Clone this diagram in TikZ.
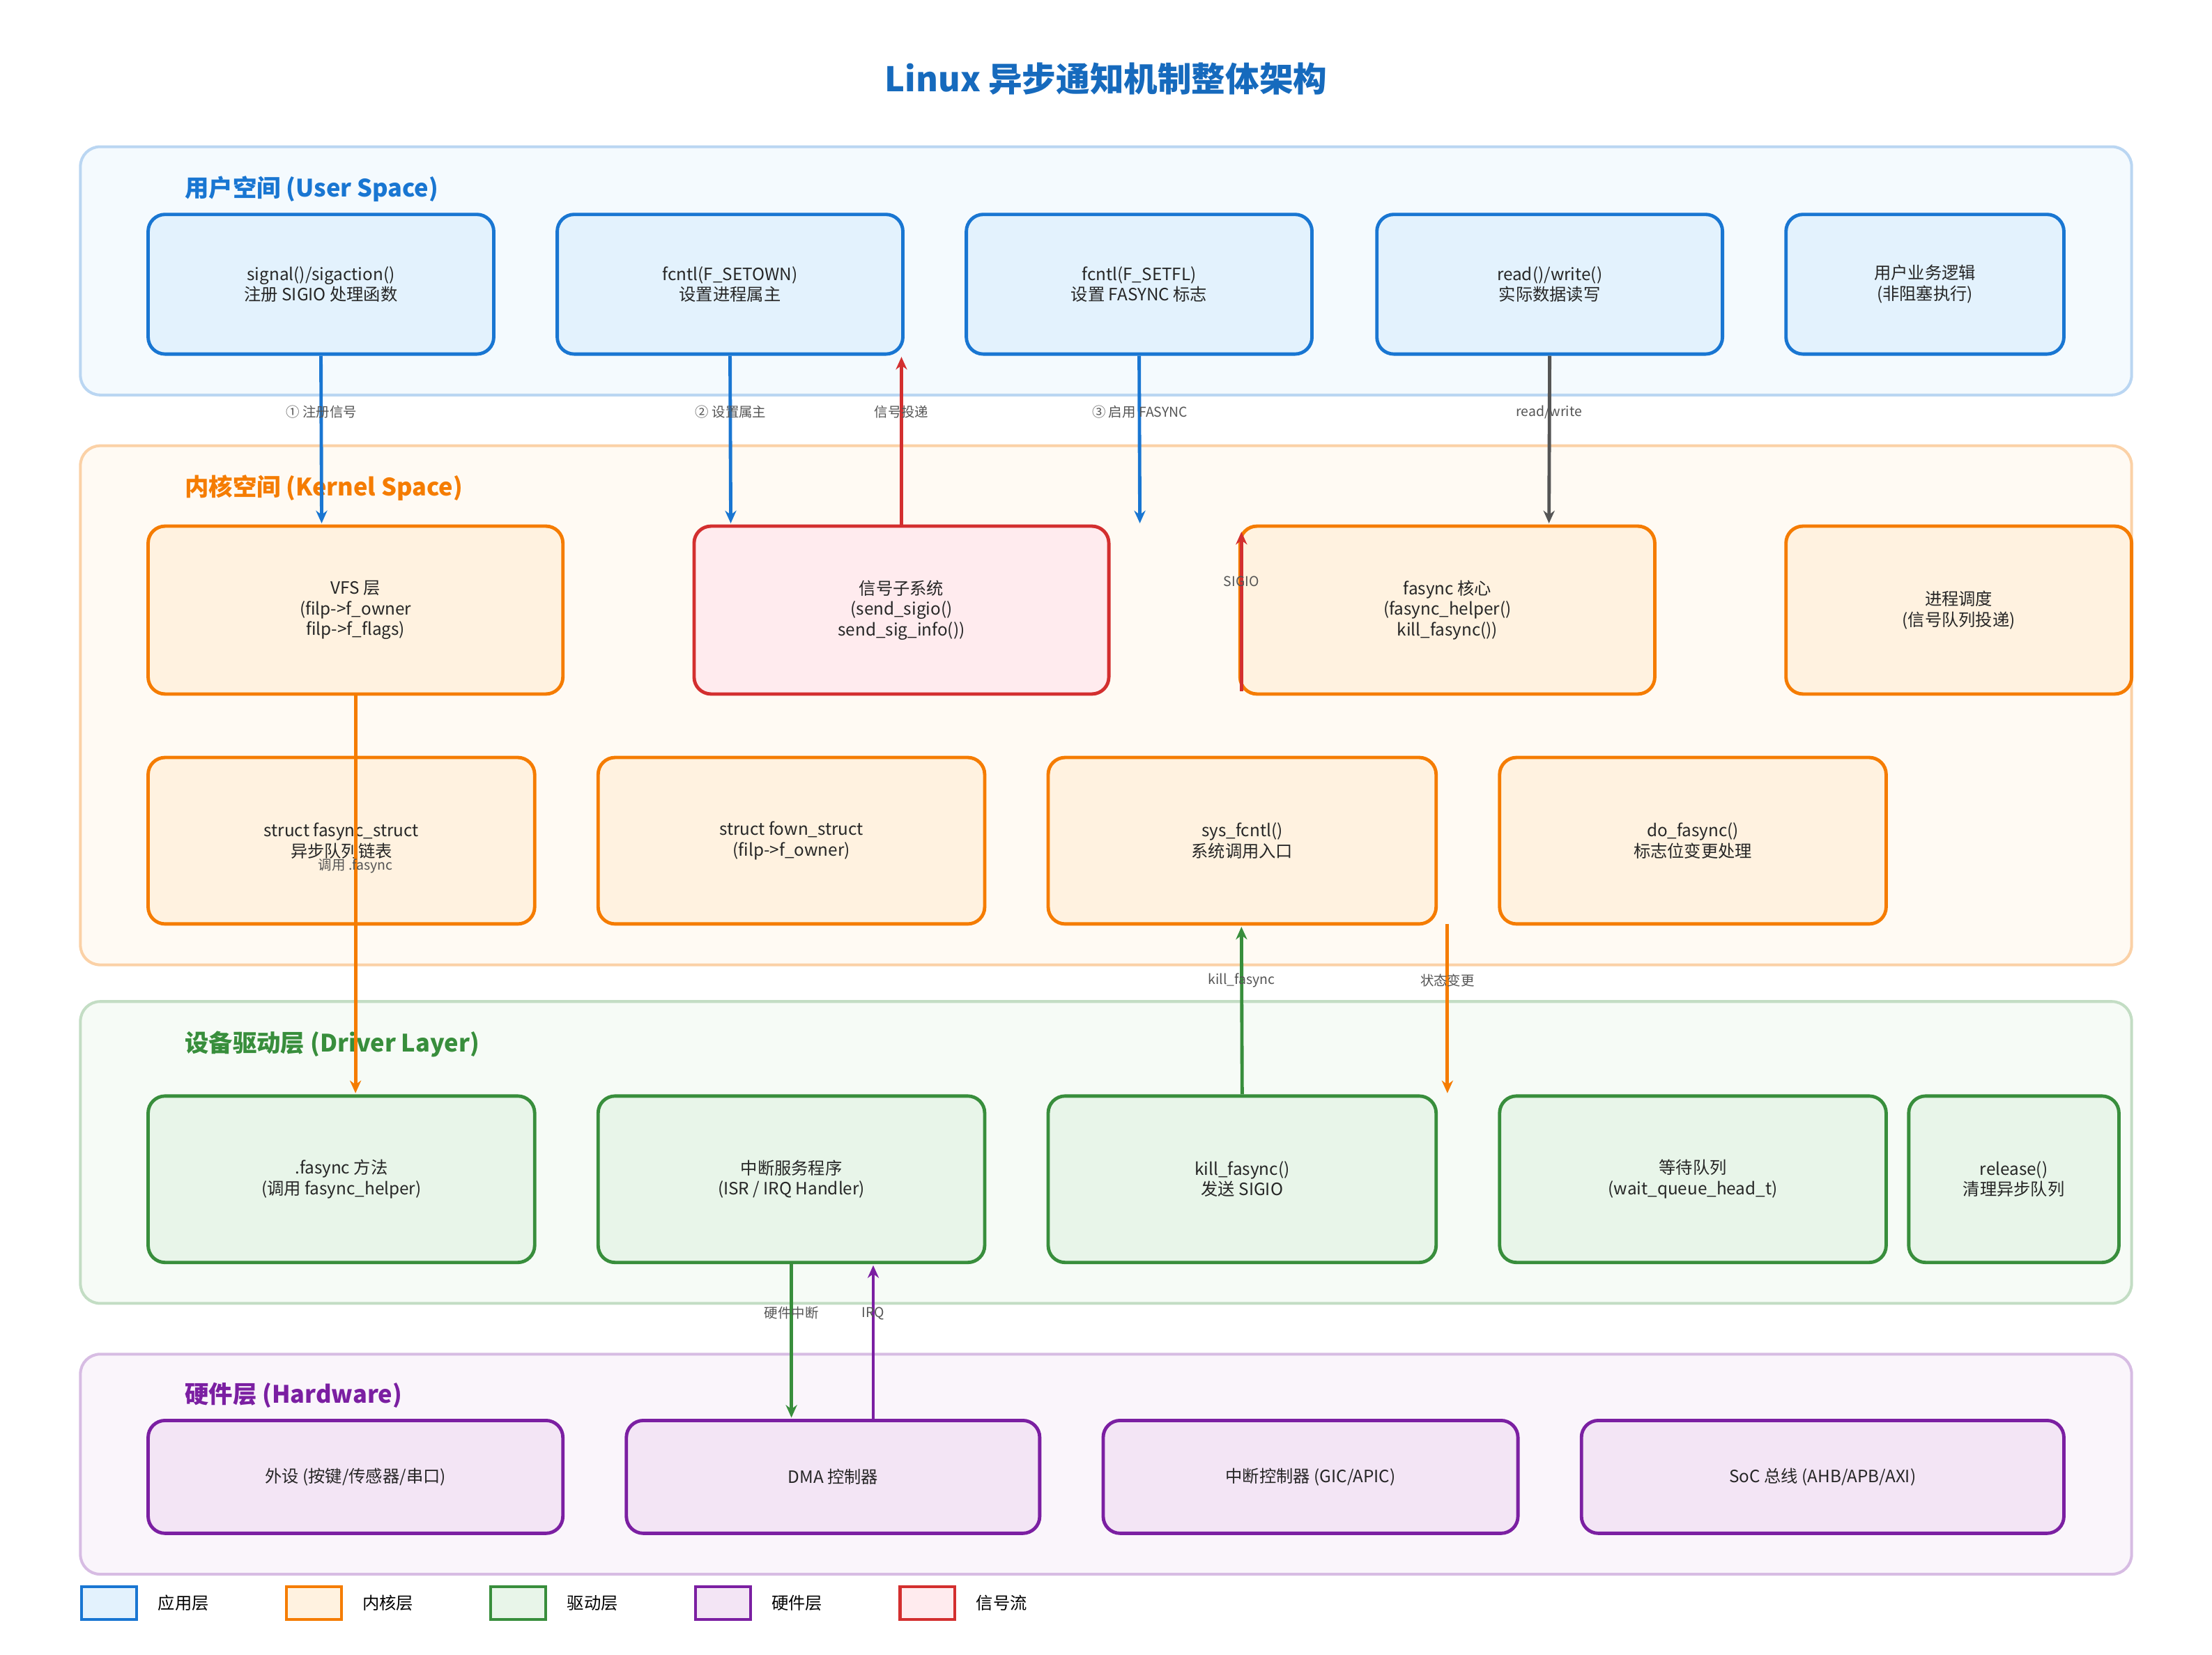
\documentclass[tikz,border=0pt]{standalone}
\usepackage{fontspec}
\setmainfont{Noto Sans CJK SC}
\usetikzlibrary{arrows.meta}
\definecolor{ub}{HTML}{1976D2}\definecolor{uf}{HTML}{E3F2FD}
\definecolor{kb}{HTML}{F57C00}\definecolor{kf}{HTML}{FFF2E0}
\definecolor{db}{HTML}{388E3C}\definecolor{df}{HTML}{E8F5E9}
\definecolor{hb}{HTML}{7B1FA2}\definecolor{hf}{HTML}{F3E5F5}
\definecolor{rb}{HTML}{D32F2F}\definecolor{rf}{HTML}{FFEBEE}
\definecolor{lab}{HTML}{555555}
\tikzset{
 base/.style={rounded corners=6pt,line width=1.2pt,align=center,font=\fontsize{6}{7.3}\selectfont,text=black!85},
 ubox/.style={base,draw=ub,fill=uf},
 kbox/.style={base,draw=kb,fill=kf},
 dbox/.style={base,draw=db,fill=df},
 hbox/.style={base,draw=hb,fill=hf},
 rbox/.style={base,draw=rb,fill=rf},
 layer/.style={rounded corners=7pt,line width=1pt},
 ltitle/.style={anchor=west,font=\bfseries\fontsize{8.5}{10}\selectfont},
 arr/.style={line width=1.2pt,-{Stealth[length=4.5pt,width=4pt]}},
 lbl/.style={font=\fontsize{4.8}{6}\selectfont,text=lab},
 lg/.style={line width=1pt,minimum width=19.5pt,minimum height=11.5pt,inner sep=0pt},
 lgt/.style={anchor=west,font=\fontsize{6}{7}\selectfont}
}
\newcommand\bx[7]{\node[#2,minimum width={(#5-#3)*0.5pt},minimum height={(#6-#4)*0.5pt},inner sep=0pt] (#1) at ({(#3+#5)/2},{(#4+#6)/2}) {#7};}
\begin{document}
\begin{tikzpicture}[x=0.5pt,y=-0.5pt]
\useasboundingbox[fill=white] (0,0) rectangle (1568,1173);
\node[font=\bfseries\fontsize{12}{14}\selectfont,text=ub!90!black] (title) at (784,56) {Linux 异步通知机制整体架构};
% layers
\draw[layer,draw=ub!30,fill=uf!40] (57,104) rectangle (1511,280);
\node[ltitle,text=ub] (lu) at (124,134) {用户空间 (User Space)};
\draw[layer,draw=kb!35,fill=kf!40] (57,316) rectangle (1511,684);
\node[ltitle,text=kb] (lk) at (124,346) {内核空间 (Kernel Space)};
\draw[layer,draw=db!30,fill=df!40] (57,710) rectangle (1511,924);
\node[ltitle,text=db] (ld) at (124,740) {设备驱动层 (Driver Layer)};
\draw[layer,draw=hb!30,fill=hf!40] (57,960) rectangle (1511,1116);
\node[ltitle,text=hb] (lh) at (124,989) {硬件层 (Hardware)};
% user
\bx{u1}{ubox}{105}{152}{350}{251}{signal()/sigaction()\\注册 SIGIO 处理函数}
\bx{u2}{ubox}{395}{152}{640}{251}{fcntl(F\_SETOWN)\\设置进程属主}
\bx{u3}{ubox}{685}{152}{930}{251}{fcntl(F\_SETFL)\\设置 FASYNC 标志}
\bx{u4}{ubox}{976}{152}{1221}{251}{read()/write()\\实际数据读写}
\bx{u5}{ubox}{1266}{152}{1463}{251}{用户业务逻辑\\(非阻塞执行)}
% kernel
\bx{k1}{kbox}{105}{373}{399}{492}{VFS 层\\(filp->f\_owner\\filp->f\_flags)}
\bx{k2}{rbox}{492}{373}{786}{492}{信号子系统\\(send\_sigio()\\send\_sig\_info())}
\bx{k3}{kbox}{879}{373}{1173}{492}{fasync 核心\\(fasync\_helper()\\kill\_fasync())}
\bx{k4}{kbox}{1266}{373}{1511}{492}{进程调度\\(信号队列投递)}
\bx{k5}{kbox}{105}{537}{379}{655}{struct fasync\_struct\\异步队列链表}
\bx{k6}{kbox}{424}{537}{698}{655}{struct fown\_struct\\(filp->f\_owner)}
\bx{k7}{kbox}{743}{537}{1018}{655}{sys\_fcntl()\\系统调用入口}
\bx{k8}{kbox}{1063}{537}{1337}{655}{do\_fasync()\\标志位变更处理}
% driver
\bx{d1}{dbox}{105}{777}{379}{895}{.fasync 方法\\(调用 fasync\_helper)}
\bx{d2}{dbox}{424}{777}{698}{895}{中断服务程序\\(ISR / IRQ Handler)}
\bx{d3}{dbox}{743}{777}{1018}{895}{kill\_fasync()\\发送 SIGIO}
\bx{d4}{dbox}{1063}{777}{1337}{895}{等待队列\\(wait\_queue\_head\_t)}
\bx{d5}{dbox}{1353}{777}{1502}{895}{release()\\清理异步队列}
% hardware
\bx{h1}{hbox}{105}{1007}{399}{1087}{外设 (按键/传感器/串口)}
\bx{h2}{hbox}{444}{1007}{737}{1087}{DMA 控制器}
\bx{h3}{hbox}{782}{1007}{1076}{1087}{中断控制器 (GIC/APIC)}
\bx{h4}{hbox}{1121}{1007}{1463}{1087}{SoC 总线 (AHB/APB/AXI)}
% connectors
\coordinate (a1) at (228,371);
\draw[arr,ub] (u1.south) -- (a1);
\node[lbl] at (228,292) {① 注册信号};
\coordinate (a2) at (518,371);
\draw[arr,ub] (u2.south) -- (a2);
\node[lbl] at (518,292) {② 设置属主};
\coordinate (a3) at (639,253);
\draw[arr,rb] (k2.north -| a3) -- (a3);
\node[lbl] at (639,292) {信号投递};
\coordinate (a4) at (808,371);
\draw[arr,ub] (u3.south) -- (a4);
\node[lbl] at (808,292) {③ 启用 FASYNC};
\coordinate (a5) at (1098,371);
\draw[arr,lab] (u4.south) -- (a5);
\node[lbl] at (1098,292) {read/write};
\coordinate (a6) at (880,377);
\draw[arr,rb] (880,490) -- (a6);
\node[lbl] at (880,412) {SIGIO};
\coordinate (a7) at (252,775);
\draw[arr,kb] (k1.south) -- (a7);
\node[lbl] at (252,614) {调用 .fasync};
\coordinate (a8) at (880,657);
\draw[arr,db] (d3.north) -- (a8);
\node[lbl] at (880,695) {kill\_fasync};
\coordinate (a9) at (1026,775);
\draw[arr,kb] (1026,655) -- (a9);
\node[lbl] at (1026,695) {状态变更};
\coordinate (a10) at (561,1005);
\draw[arr,db] (d2.south) -- (a10);
\node[lbl] at (561,931) {硬件中断};
\coordinate (a11) at (619,897);
\draw[arr,hb] (h2.north -| a11) -- (a11);
\node[lbl] at (619,931) {IRQ};
% legend
\node[lg,draw=ub,fill=uf] (g1) at (77.5,1136.5) {}; \node[lgt] at (105,1136.5) {应用层};
\node[lg,draw=kb,fill=kf] (g2) at (222.5,1136.5) {}; \node[lgt] at (250,1136.5) {内核层};
\node[lg,draw=db,fill=df] (g3) at (367.5,1136.5) {}; \node[lgt] at (395,1136.5) {驱动层};
\node[lg,draw=hb,fill=hf] (g4) at (512.5,1136.5) {}; \node[lgt] at (540,1136.5) {硬件层};
\node[lg,draw=rb,fill=rf] (g5) at (657.5,1136.5) {}; \node[lgt] at (685,1136.5) {信号流};
\end{tikzpicture}
\end{document}
